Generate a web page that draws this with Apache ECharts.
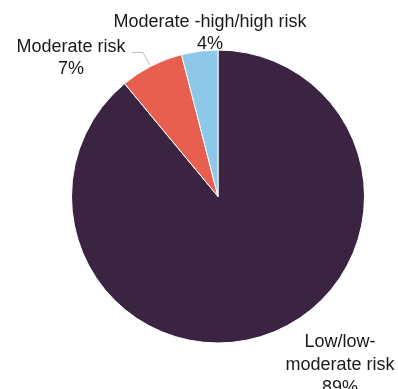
<!DOCTYPE html>
<html>
<head>
<meta charset="utf-8">
<script src="https://cdn.jsdelivr.net/npm/echarts@6/dist/echarts.min.js"></script>
<style>
  html, body { margin: 0; padding: 0; background: #fff; }
  #chart { width: 398px; height: 389px; }
</style>
</head>
<body>
<div id="chart"></div>
<script>
// Risk categories and their share of the total (percent)
const categories = ['Low/low-\nmoderate risk', 'Moderate risk', 'Moderate -high/high risk'];
const shares = [89, 7, 4];
const colors = ['#3b2442', '#e85e4f', '#8ec8e8'];

// Label anchor points (centre of each text block) and the one leader line
const labelSpots = [
  { x: 340, y: 365 },
  { x: 71, y: 58 },
  { x: 210, y: 33 }
];
const leaderPoints = [[150, 65], [143, 52.5], [132, 52.5]];

const chart = echarts.init(document.getElementById('chart'), null, { renderer: 'canvas' });

chart.setOption({
  animation: false,
  series: [{
    type: 'pie',
    center: [218, 196.5],
    radius: 146.5,
    startAngle: 90,
    clockwise: true,
    avoidLabelOverlap: false,
    itemStyle: { borderColor: '#ffffff', borderWidth: 1 },
    label: {
      show: true,
      position: 'outside',
      formatter: p => p.name + '\n' + p.value + '%',
      fontFamily: 'Liberation Sans, Arial, sans-serif',
      fontSize: 18,
      lineHeight: 22,
      color: '#1a1a1a',
      align: 'center'
    },
    labelLine: { show: false },
    labelLayout: function (params) {
      const spot = labelSpots[params.dataIndex];
      const out = {
        x: spot.x,
        y: spot.y,
        align: 'center',
        verticalAlign: 'middle'
      };
      if (params.dataIndex === 1) {
        out.labelLinePoints = leaderPoints;
      }
      return out;
    },
    data: categories.map((name, i) => ({
      name: name,
      value: shares[i],
      itemStyle: { color: colors[i] },
      label: i === 0 ? { lineHeight: 23 } : {},
      labelLine: i === 1
        ? { show: true, lineStyle: { color: '#bfbfbf', width: 1 } }
        : { show: false }
    }))
  }]
});
</script>
</body>
</html>
